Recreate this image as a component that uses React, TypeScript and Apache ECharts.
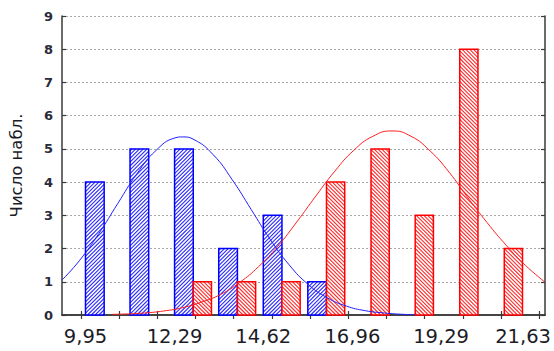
import React, { useEffect, useRef } from "react";
import * as echarts from "echarts";

// ---- data ----
const binStarts = [9.95, 11.12, 12.29, 13.45, 14.62, 15.79, 16.96, 18.12, 19.29, 20.46];
const BIN_WIDTH = 1.1675;
const blueCounts = [4, 5, 5, 2, 3, 1, 0, 0, 0, 0];
const redCounts = [0, 0, 1, 1, 1, 4, 5, 3, 8, 2];

const blueCurveX = [9.34, 9.8, 10.3, 10.8, 11.3, 11.8, 12.3, 12.5, 12.8, 13.3, 13.8, 14.3, 14.8, 15.3, 15.8, 16.3, 16.8, 17.3, 17.8, 18.3, 18.6];
const blueCurveY = [1.06, 1.65, 2.45, 3.36, 4.25, 4.95, 5.33, 5.36, 5.28, 4.83, 4.08, 3.18, 2.28, 1.51, 0.92, 0.52, 0.27, 0.13, 0.06, 0.02, 0.01];

const redCurveX = [10.66, 11.0, 11.5, 12.0, 12.5, 13.0, 13.5, 14.0, 14.5, 15.0, 15.5, 16.0, 16.5, 17.0, 17.5, 18.0, 18.5, 19.0, 19.5, 20.0, 20.5, 21.0, 21.5, 22.02];
const redCurveY = [0.02, 0.03, 0.06, 0.12, 0.22, 0.39, 0.62, 0.98, 1.46, 2.07, 2.8, 3.58, 4.33, 4.96, 5.38, 5.54, 5.38, 4.94, 4.3, 3.52, 2.78, 2.1, 1.5, 0.99];

const xLabelValues = [9.95, 12.29, 14.62, 16.96, 19.29, 21.63];
const xTickValues = [9.83, 10.83, 11.84, 12.84, 13.84, 14.85, 15.85, 16.85, 17.86, 18.86, 19.86, 20.86, 21.87];
const X_MIN = 9.333;
const X_MAX = 22.02;
const Y_MIN = 0;
const Y_MAX = 9;
const yAxisName = "Число набл.";

const makeHatch = (hatch: string, border: string, f0: number, f1: number, dir: number) => (params: any, api: any) => {
  const start = api.value(0) as number;
  const val = api.value(1) as number;
  if (!val) return null;
  const base = api.coord([start, 0]);
  const top = api.coord([start, val]);
  const binPx = api.size([BIN_WIDTH, 0])[0];
  const x0 = base[0] + binPx * f0;
  const x1 = base[0] + binPx * f1;
  const y0 = top[1];
  const y1 = base[1];
  const children: any[] = [
    { type: "rect", shape: { x: x0, y: y0, width: x1 - x0, height: y1 - y0 }, style: { fill: "#ffffff" } },
  ];
  const s = 3.8;
  if (dir === 1) {
    for (let c = x0 + y0 + s / 2; c < x1 + y1; c += s) {
      const xa = Math.max(x0, c - y1);
      const xb = Math.min(x1, c - y0);
      if (xb > xa) children.push({ type: "line", shape: { x1: xa, y1: c - xa, x2: xb, y2: c - xb }, style: { stroke: hatch, lineWidth: 1.1 } });
    }
  } else {
    for (let c = x0 - y1 + s / 2; c < x1 - y0; c += s) {
      const xa = Math.max(x0, y0 + c);
      const xb = Math.min(x1, y1 + c);
      if (xb > xa) children.push({ type: "line", shape: { x1: xa, y1: xa - c, x2: xb, y2: xb - c }, style: { stroke: hatch, lineWidth: 1.1 } });
    }
  }
  children.push({ type: "rect", shape: { x: x0, y: y0, width: x1 - x0, height: y1 - y0 }, style: { fill: "none", stroke: border, lineWidth: 1.5 } });
  return { type: "group", children };
};

const FONT = '"DejaVu Sans", Verdana, sans-serif';
const AXIS_COLOR = "#3a3a3a";

export default function App() {
  const ref = useRef<HTMLDivElement>(null);
  useEffect(() => {
    if (!ref.current) return;
    const chart = echarts.init(ref.current, null, { renderer: "svg" });
    const fmt = (v: number) => {
      const s = v.toFixed(2).replace(".", ",");
      return Math.abs(v - xLabelValues[xLabelValues.length - 1]) < 1e-6 ? `{last|${s}}` : s;
    };
    chart.setOption({
      animation: false,
      backgroundColor: "#ffffff",
      grid: { left: 62, right: 9, top: 16, bottom: 36 },
      xAxis: [
        {
          type: "value",
          min: X_MIN,
          max: X_MAX,
          position: "bottom",
          axisLine: { show: true, lineStyle: { color: AXIS_COLOR, width: 1.5 } },
          axisTick: { show: true, inside: true, length: 4, customValues: xTickValues, lineStyle: { color: AXIS_COLOR, width: 1.2 } },
          axisLabel: {
            show: true,
            customValues: xLabelValues,
            formatter: fmt,
            fontFamily: FONT,
            fontSize: 19.5,
            color: "#1c1c28",
            margin: 11,
            rich: {
              last: { fontFamily: FONT, fontSize: 19.5, color: "#1c1c28", width: 70, align: "left" },
            },
          },
          splitLine: { show: false },
        },
        {
          type: "value",
          min: X_MIN,
          max: X_MAX,
          position: "top",
          axisLine: { show: true, lineStyle: { color: AXIS_COLOR, width: 1.5 } },
          axisTick: { show: true, inside: true, length: 4, customValues: xTickValues, lineStyle: { color: AXIS_COLOR, width: 1.2 } },
          axisLabel: { show: false },
          splitLine: { show: false },
        },
      ],
      yAxis: [
        {
          type: "value",
          min: Y_MIN,
          max: Y_MAX,
          interval: 1,
          position: "left",
          name: yAxisName,
          nameLocation: "middle",
          nameGap: 37,
          nameTextStyle: { fontFamily: FONT, fontSize: 16.5, color: "#1c1c28" },
          axisLine: { show: true, lineStyle: { color: AXIS_COLOR, width: 1.5 } },
          axisTick: { show: true, inside: true, length: 4, lineStyle: { color: AXIS_COLOR, width: 1.2 } },
          axisLabel: { fontFamily: FONT, fontSize: 13, fontWeight: "bold", color: "#2a2a3a", margin: 9 },
          splitLine: { show: true, lineStyle: { color: "#a8a8a8", width: 1, type: [2, 2] } },
        },
        {
          type: "value",
          min: Y_MIN,
          max: Y_MAX,
          interval: 1,
          position: "right",
          axisLine: { show: true, lineStyle: { color: AXIS_COLOR, width: 1.5 } },
          axisTick: { show: true, inside: true, length: 4, lineStyle: { color: AXIS_COLOR, width: 1.2 } },
          axisLabel: { show: false },
          splitLine: { show: false },
        },
      ],
      series: [
        {
          type: "custom",
          xAxisIndex: 0,
          yAxisIndex: 0,
          renderItem: makeHatch("#2a2aff", "#0000ff", 0, 0.42, 1),
          encode: { x: 0, y: 1 },
          data: binStarts.map((b, i) => [b, blueCounts[i]]),
          z: 2,
        },
        {
          type: "custom",
          xAxisIndex: 0,
          yAxisIndex: 0,
          renderItem: makeHatch("#ff2a2a", "#ff0000", 0.42, 0.83, -1),
          encode: { x: 0, y: 1 },
          data: binStarts.map((b, i) => [b, redCounts[i]]),
          z: 3,
        },
        {
          type: "line",
          xAxisIndex: 0,
          yAxisIndex: 0,
          smooth: true,
          symbol: "none",
          lineStyle: { color: "#2020ff", width: 1 },
          data: blueCurveX.map((x, i) => [x, blueCurveY[i]]),
          z: 4,
        },
        {
          type: "line",
          xAxisIndex: 0,
          yAxisIndex: 0,
          smooth: true,
          symbol: "none",
          lineStyle: { color: "#ff2020", width: 1 },
          data: redCurveX.map((x, i) => [x, redCurveY[i]]),
          z: 5,
        },
      ],
    });
    return () => chart.dispose();
  }, []);
  return <div ref={ref} style={{ position: "fixed", left: 0, top: 0, width: 554, height: 351, background: "#fff" }} />;
}
